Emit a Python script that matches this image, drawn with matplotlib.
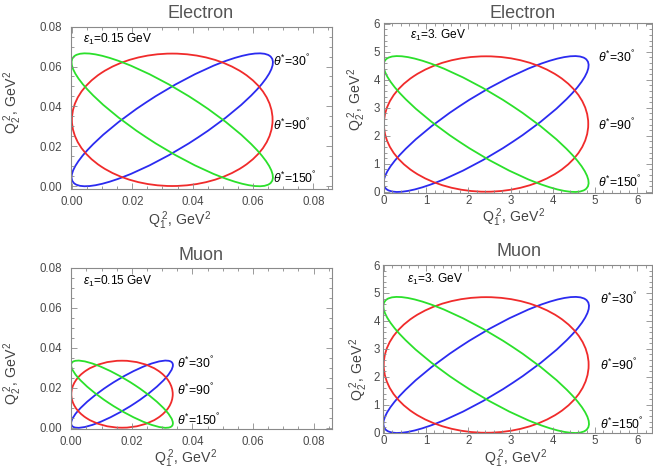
import matplotlib
matplotlib.use("Agg")
import matplotlib.pyplot as plt
from matplotlib.patches import Ellipse
from matplotlib.ticker import MultipleLocator, FormatStrFormatter

plt.rcParams['font.family'] = ['Liberation Sans', 'DejaVu Sans']
plt.rcParams['mathtext.fontset'] = 'custom'
plt.rcParams['mathtext.rm'] = 'Liberation Sans'
plt.rcParams['mathtext.it'] = 'Liberation Sans:italic'
plt.rcParams['mathtext.bf'] = 'Liberation Sans:bold'

# ---- data ----
panel_titles = ['Electron', 'Electron', 'Muon', 'Muon']
energy_labels = ['0.15 GeV', '3. GeV', '0.15 GeV', '3. GeV']
q_max = [0.0665, 4.84, 0.0335, 4.85]          # side of square the ellipses touch
theta_labels = ['30', '90', '150']
diag_frac = [1.37, 1.00, 0.37]                 # diameter along diagonal / q_max
anti_frac = [0.37, 1.00, 1.37]                 # diameter along anti-diagonal / q_max
curve_colors = ['#2b2bf0', '#f02b2b', '#2be02b']
x_limits = [(-0.0004, 0.0861), (-0.01, 6.35), (-0.0002, 0.0862), (-0.01, 6.35)]
y_limits = [(-0.0015, 0.08), (-0.035, 6.02), (-0.0008, 0.08), (-0.02, 6.0)]
major_step = [0.02, 1, 0.02, 1]
minor_step = [0.005, 0.2, 0.005, 0.2]
tick_fmt = ['%.2f', '%d', '%.2f', '%d']

# layout (pixels)
W, H = 653, 472
boxes_px = [(70.7, 331.7, 26.7, 189.0),
            (383.5, 652.0, 23.3, 192.7),
            (70.7, 332.3, 267.7, 429.3),
            (383.3, 652.0, 265.0, 433.3)]
x_pad = [5, 1.8, 4.5, 1.5]
y_pad = [6.5, 2.5, 6.5, 2.5]
title_px = [(201, 14), (523, 13.5), (201.5, 255.5), (518.5, 251)]
xlabel_px = [(180, 221), (514, 217.5), (186, 459), (516, 458.5)]
ylabel_px = [(13, 102), (357, 99), (13, 373), (359, 369)]
eps_pos = [(0.047, 0.922), (0.099, 0.931), (0.048, 0.918), (0.089, 0.915)]
theta_x = [0.776, 0.80, 0.405, 0.806]
theta_y = [(0.784, 0.394, 0.066), (0.80, 0.394, 0.061),
           (0.406, 0.237, 0.056), (0.796, 0.40, 0.053)]

fig = plt.figure(figsize=(W / 100, H / 100), dpi=100)
frame_col = '#8a8a8a'
tick_col = '#4a4a4a'

for i in range(4):
    l, r, t, b = boxes_px[i]
    ax = fig.add_axes([l / W, 1 - b / H, (r - l) / W, (b - t) / H])
    q = q_max[i]
    for k in range(3):
        e = Ellipse((q / 2, q / 2), width=diag_frac[k] * q, height=anti_frac[k] * q,
                    angle=45, fill=False, edgecolor=curve_colors[k], lw=1.3)
        ax.add_patch(e)
    ax.set_xlim(*x_limits[i])
    ax.set_ylim(*y_limits[i])
    ax.xaxis.set_major_locator(MultipleLocator(major_step[i]))
    ax.yaxis.set_major_locator(MultipleLocator(major_step[i]))
    ax.xaxis.set_minor_locator(MultipleLocator(minor_step[i]))
    ax.yaxis.set_minor_locator(MultipleLocator(minor_step[i]))
    ax.xaxis.set_major_formatter(FormatStrFormatter(tick_fmt[i]))
    ax.yaxis.set_major_formatter(FormatStrFormatter(tick_fmt[i]))
    ax.tick_params(which='both', direction='in', top=True, right=True,
                   color=frame_col, width=0.6, labelsize=8.3, labelcolor=tick_col)
    ax.tick_params(which='major', length=4)
    ax.tick_params(which='minor', length=2)
    ax.tick_params(axis='x', pad=x_pad[i])
    ax.tick_params(axis='y', pad=y_pad[i])
    for s in ax.spines.values():
        s.set_color(frame_col)
        s.set_linewidth(0.8)
    fig.text(title_px[i][0] / W, 1 - title_px[i][1] / H, panel_titles[i],
             fontsize=13, color='#555555', ha='center', va='center')
    fig.text(xlabel_px[i][0] / W, 1 - xlabel_px[i][1] / H,
             r'$\mathrm{Q}_1^{\ 2}$, GeV$^2$', fontsize=10.2, color='#444444',
             ha='center', va='center')
    fig.text(ylabel_px[i][0] / W, 1 - ylabel_px[i][1] / H,
             r'$\mathrm{Q}_2^{\ 2}$, GeV$^2$', fontsize=10.2, color='#444444',
             ha='center', va='center', rotation=90)
    ax.text(eps_pos[i][0], eps_pos[i][1], r'$\varepsilon_1$=' + energy_labels[i],
            transform=ax.transAxes, fontsize=8.6, va='center', ha='left')
    for k in range(3):
        ax.text(theta_x[i], theta_y[i][k], r'$\theta^{*}$=' + theta_labels[k] + r'$^{°}$',
                transform=ax.transAxes, fontsize=8.8, va='center', ha='left')

fig.savefig('out.png', dpi=100)
